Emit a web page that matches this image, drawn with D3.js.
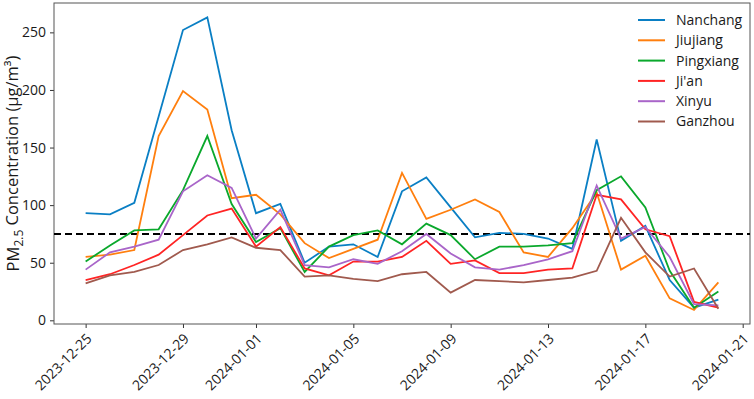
<!DOCTYPE html>
<html>
<head>
<meta charset="utf-8">
<script src="https://cdn.jsdelivr.net/npm/d3@7"></script>
<style>
  body { margin: 0; background: #fff; }
  text { font-family: "Open Sans", "Noto Sans", sans-serif; fill: #1a1a1a; }
</style>
</head>
<body>
<div id="chart"></div>
<script>
// Daily PM2.5 for six Jiangxi cities, 2023-12-25 .. 2024-01-20
const dates = d3.utcDay.range(new Date(Date.UTC(2023, 11, 25)), new Date(Date.UTC(2024, 0, 21)));

const nanchang  = [93, 92, 102, 177, 252, 263, 165, 93, 101, 50, 64, 66, 55, 112, 124, 98, 72, 76, 75, 71, 62, 157, 69, 82, 35, 11, 18];
const jiujiang  = [55, 57, 61, 160, 199, 183, 106, 109, 92, 67, 54, 62, 70, 128, 88, 96, 105, 94, 59, 55, 80, 111, 44, 56, 19, 9, 33];
const pingxiang = [51, 65, 78, 79, 113, 160, 101, 68, 80, 42, 64, 74, 78, 66, 84, 74, 53, 64, 64, 65, 67, 113, 125, 98, 43, 11, 25];
const jian      = [35, 40, 48, 57, 74, 91, 97, 64, 81, 45, 39, 51, 51, 55, 69, 49, 52, 41, 41, 44, 45, 109, 105, 79, 73, 16, 11];
const xinyu     = [44, 59, 64, 70, 112, 126, 115, 71, 96, 48, 46, 53, 49, 60, 75, 58, 46, 44, 48, 53, 60, 117, 71, 81, 55, 14, 13];
const ganzhou   = [32, 39, 42, 48, 61, 66, 72, 63, 61, 38, 39, 36, 34, 40, 42, 24, 35, 34, 33, 35, 37, 43, 89, 59, 38, 45, 10];

const cityNames  = ["Nanchang", "Jiujiang", "Pingxiang", "Ji'an", "Xinyu", "Ganzhou"];
const cityColors = ["#0a7fc4", "#ff7f0e", "#0aa82c", "#ff2424", "#a965c9", "#a05a4e"];
const cityValues = [nanchang, jiujiang, pingxiang, jian, xinyu, ganzhou];

const limit = 75;
const yTicks = [0, 50, 100, 150, 200, 250];
const xTickLabels = ["2023-12-25", "2023-12-29", "2024-01-01", "2024-01-05", "2024-01-09",
                     "2024-01-13", "2024-01-17", "2024-01-21"];

function drawChart() {
    const W = 754, H = 399;
    const margin = {top: 3, right: 4, bottom: 75, left: 54};
    const width = W - margin.left - margin.right;
    const height = H - margin.top - margin.bottom;

    const svg = d3.select("#chart").append("svg")
        .attr("width", W)
        .attr("height", H);

    const g = svg.append("g")
        .attr("transform", `translate(${margin.left},${margin.top})`);

    const t0 = dates[0], t1 = dates[dates.length - 1];
    const pad = (t1 - t0) * 0.05;
    const x = d3.scaleUtc()
        .domain([new Date(+t0 - pad), new Date(+t1 + pad)])
        .range([0, width]);

    const y = d3.scaleLinear()
        .domain([-3.2, 275.5])
        .range([height, 0]);

    // axes
    const xAxis = g.append("g")
        .attr("transform", `translate(0,${height})`)
        .call(d3.axisBottom(x)
            .tickValues(xTickLabels.map(s => new Date(s + "T00:00:00Z")))
            .tickFormat(d3.utcFormat("%Y-%m-%d"))
            .tickSize(4)
            .tickPadding(3));
    xAxis.selectAll("text")
        .style("font-size", "14px")
        .attr("text-anchor", "end")
        .attr("x", 0)
        .attr("y", 0)
        .attr("dy", "0.35em")
        .attr("transform", "translate(3,12) rotate(-45)");

    const yAxis = g.append("g")
        .call(d3.axisLeft(y).tickValues(yTicks).tickSize(4).tickPadding(4));
    yAxis.selectAll("text").style("font-size", "14px");

    g.selectAll(".domain").remove();
    g.selectAll(".tick line").attr("stroke", "#333");

    // frame
    g.append("rect")
        .attr("width", width)
        .attr("height", height)
        .attr("fill", "none")
        .attr("stroke", "#555")
        .attr("stroke-width", 1);

    // y label
    const ylab = svg.append("text")
        .attr("transform", `translate(19,${margin.top + height / 2}) rotate(-90)`)
        .attr("text-anchor", "middle")
        .style("font-size", "16.5px");
    ylab.append("tspan").text("PM");
    ylab.append("tspan").attr("dy", "0.3em").style("font-size", "12px").text("2.5");
    ylab.append("tspan").attr("dy", "-0.3em").text(" Concentration (μg/m³)");

    const line = d3.line()
        .x((d, i) => x(dates[i]))
        .y(d => y(d));

    // limit line
    g.append("line")
        .attr("x1", 0)
        .attr("x2", width)
        .attr("y1", y(limit))
        .attr("y2", y(limit))
        .attr("stroke", "#000")
        .attr("stroke-width", 2)
        .attr("stroke-dasharray", "7,4");

    cityValues.forEach((vals, k) => {
        g.append("path")
            .datum(vals)
            .attr("fill", "none")
            .attr("stroke", cityColors[k])
            .attr("stroke-width", 1.8)
            .attr("stroke-linejoin", "miter")
            .attr("d", line);
    });

    // legend
    const legend = svg.append("g").attr("transform", "translate(638,20)");
    cityNames.forEach((name, i) => {
        const row = legend.append("g").attr("transform", `translate(0,${i * 20.3})`);
        row.append("line")
            .attr("x1", 0).attr("x2", 27)
            .attr("stroke", cityColors[i])
            .attr("stroke-width", 2);
        row.append("text")
            .attr("x", 38)
            .attr("dy", "0.35em")
            .style("font-size", "14px")
            .text(name);
    });
}

drawChart();
</script>
</body>
</html>
